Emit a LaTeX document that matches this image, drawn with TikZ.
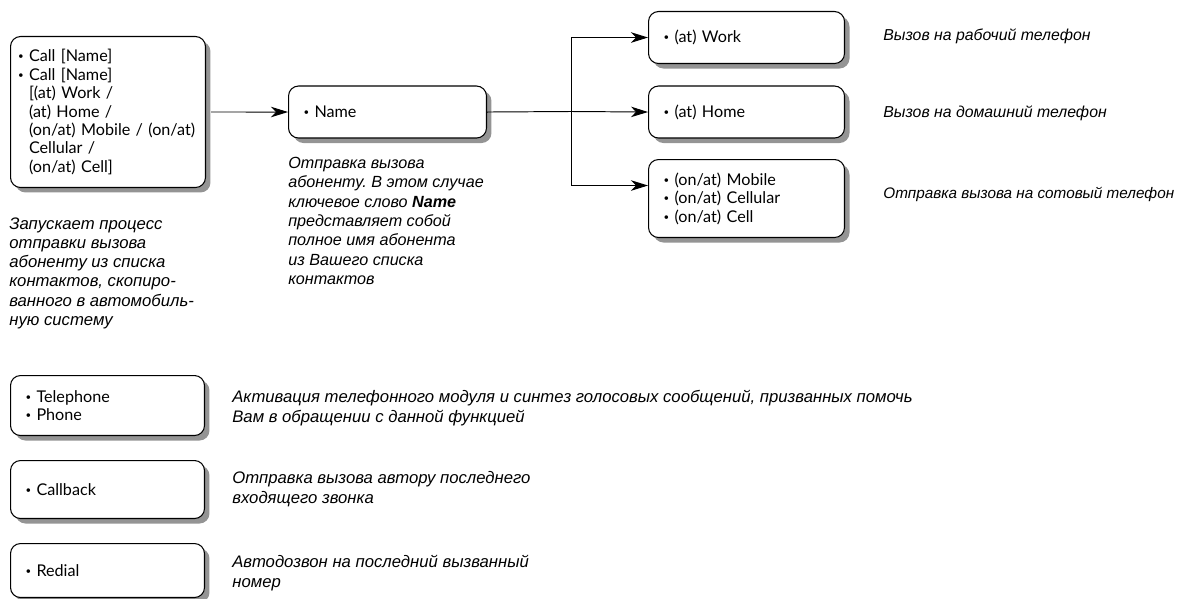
\documentclass[tikz,border=0pt]{standalone}
\usepackage{fontspec}
\newfontfamily\boxfont{Lato}
\newfontfamily\descfont{Liberation Sans}
\usetikzlibrary{positioning, arrows.meta, shadows}
\newcommand{\bul}{\raisebox{0.25ex}{\scalebox{0.6}{•}}\ }
\frenchspacing

\begin{document}
\begin{tikzpicture}[x=0.02cm, y=-0.02cm]
	\tikzset{
		cmdbox/.style={draw, rounded corners=0.2cm, fill=white, line width=0.6pt, anchor=north west,
			drop shadow={shadow xshift=0.1cm, shadow yshift=-0.1cm, fill=black!42, opacity=1},
			align=left, inner xsep=0.3cm, font=\boxfont\fontsize{9.2}{10.5}\selectfont},
		desc/.style={align=left, inner sep=0pt, font=\descfont\itshape\fontsize{#1}{11}\selectfont},
		desc/.default=9.4,
		with arrow/.style={-{Stealth[length=3.4mm, width=2.1mm, inset=1mm]}, line width=0.55pt}
	}
	\useasboundingbox (0,0) rectangle (1182,598);

	\node[cmdbox, text width=3.6cm, inner xsep=0.15cm, minimum height=3.02cm] (call) at (10,36)
		{\bul Call [Name]\\ \bul Call [Name]\\ \hphantom{\bul}[(at) Work /\\ \hphantom{\bul}(at) Home /\\
		 \hphantom{\bul}(on/at) Mobile / (on/at)\\ \hphantom{\bul}Cellular /\\ \hphantom{\bul}(on/at) Cell]};
	\node[cmdbox, text width=3.36cm, minimum height=1.04cm] (name) at (288,85.5) {\bul Name};
	\node[cmdbox, text width=3.32cm, minimum height=1.04cm] (work) at (648,11) {\bul (at) Work};
	\node[cmdbox, text width=3.32cm, minimum height=1.04cm] (home) at (648,85.5) {\bul (at) Home};
	\node[cmdbox, text width=3.32cm, minimum height=1.56cm] (mobile) at (648,159)
		{\bul (on/at) Mobile\\ \bul (on/at) Cellular\\ \bul (on/at) Cell};
	\node[cmdbox, text width=3.28cm, minimum height=1.2cm] (phone) at (10,375) {\bul Telephone\\ \bul Phone};
	\node[cmdbox, text width=3.28cm, minimum height=1.16cm] (callback) at (10,460) {\bul Callback};
	\node[cmdbox, text width=3.28cm, minimum height=1.08cm] (redial) at (10,543) {\bul Redial};

	\coordinate (split) at (571,111.5);
	\draw[with arrow] ([xshift=0.1cm]call.east) -- (name.west);
	\draw[line width=0.55pt] (name.east) -- (split);
	\draw[with arrow] (split) |- (work.west);
	\draw[with arrow] (split) -- (home.west);
	\draw[with arrow] (split) |- ([yshift=0.26cm]mobile.west);

	\node[desc=9.5, anchor=north west] (calldesc) at (9,217)
		{Запускает процесс\\ отправки вызова\\ абоненту из списка\\ контактов, скопиро-\\ ванного в автомобиль-\\ ную систему};
	\node[desc=9.2, anchor=north west] (namedesc) at (288,157)
		{Отправка вызова\\ абоненту. В этом случае\\ ключевое слово {\bfseries Name}\\ представляет собой\\ полное имя абонента\\ из Вашего списка\\ контактов};
	\node[desc=9, anchor=west] (workdesc) at (883,36) {Вызов на рабочий телефон};
	\node[desc=9, anchor=west] (homedesc) at (883,113) {Вызов на домашний телефон};
	\node[desc=8.7, anchor=west] (mobiledesc) at (883,194) {Отправка вызова на сотовый телефон};
	\node[desc=9.5, anchor=west] (phonedesc) at (232,408)
		{Активация телефонного модуля и синтез голосовых сообщений, призванных помочь\\ Вам в обращении с данной функцией};
	\node[desc=9.5, anchor=west] (callbackdesc) at (232,489) {Отправка вызова автору последнего\\ входящего звонка};
	\node[desc=9.5, anchor=west] (redialdesc) at (232,573) {Автодозвон на последний вызванный\\ номер};
\end{tikzpicture}
\end{document}
